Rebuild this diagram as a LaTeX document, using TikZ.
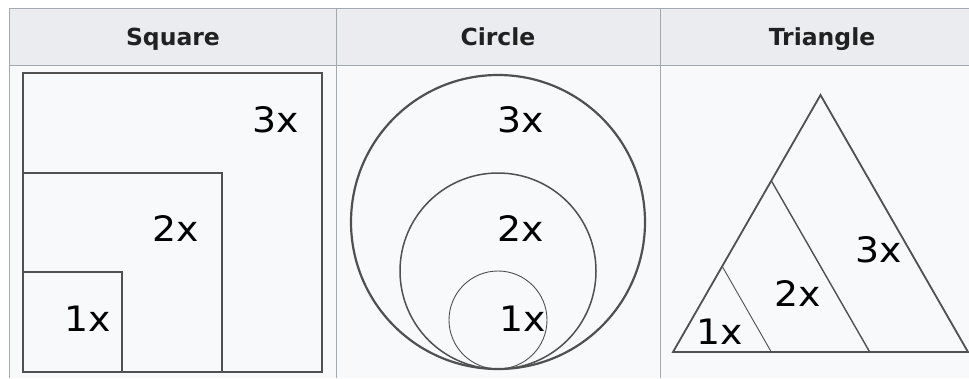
\documentclass[tikz,border=0pt]{standalone}
\usepackage{fontspec}
\newfontfamily\dejavu{DejaVu Sans}
\definecolor{hdrbg}{HTML}{EAECF0}
\definecolor{cellbg}{HTML}{F8F9FA}
\definecolor{tborder}{HTML}{A2A9B1}
\definecolor{hdrtext}{HTML}{202122}
\definecolor{shape}{HTML}{505050}
\tikzset{
  hdr/.style={font=\dejavu\bfseries\fontsize{23.5}{28}\selectfont, text=hdrtext, inner sep=0pt, anchor=base},
  lbl/.style={font=\dejavu\fontsize{35}{40}\selectfont, text=black, inner sep=0pt, xscale=1.08},
  shp/.style={draw=shape, line width=1.8pt},
}
\begin{document}
\begin{tikzpicture}[x=1pt,y=-1pt]
\useasboundingbox (0,0) rectangle (969,378);
\fill[white] (0,0) rectangle (969,378);
% table
\fill[cellbg] (9,65) rectangle (969,378);
\fill[hdrbg] (9,8) rectangle (969,65);
\draw[tborder, line width=1pt] (969,8) -- (9,8) -- (9,378);
\draw[tborder, line width=1pt] (9,65) -- (969,65);
\draw[tborder, line width=1pt] (336,8) -- (336,378);
\draw[tborder, line width=1pt] (660,8) -- (660,378);
\node[hdr] (hsq) at (173,45) {Square};
\node[hdr] (hci) at (498,45) {Circle};
\node[hdr] (htr) at (822,45) {Triangle};
% squares
\draw[shp] (23,372) rectangle (322,73);
\draw[shp] (23,372) rectangle (222,173);
\draw[shp] (23,372) rectangle (122,272);
\node[lbl] (s3) at (276,120) {3x};
\node[lbl] (s2) at (176,229) {2x};
\node[lbl] (s1) at (88,319) {1x};
% circles
\draw[draw=shape, line width=2.2pt] (498,222) circle[radius=147];
\draw[draw=shape, line width=1.5pt] (498,271) circle[radius=98];
\draw[draw=shape, line width=0.9pt] (498,320) circle[radius=49];
\node[lbl] (c3) at (521,120) {3x};
\node[lbl] (c2) at (521,229) {2x};
\node[lbl] (c1) at (523,319) {1x};
% triangles
\draw[shp, line join=miter] (673,352) -- (820.5,95) -- (968,352) -- cycle;
\draw[draw=shape, line width=1.4pt] (771.3,180.7) -- (869.7,352);
\draw[draw=shape, line width=0.9pt] (722.2,266.3) -- (771.3,352);
\node[lbl] (t3) at (879,250) {3x};
\node[lbl] (t2) at (798,294) {2x};
\node[lbl] (t1) at (720,332) {1x};
\end{tikzpicture}
\end{document}
